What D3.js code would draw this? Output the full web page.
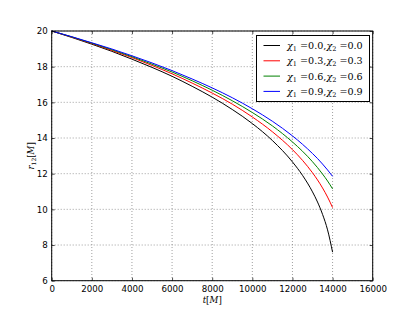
<!DOCTYPE html>
<html><head><meta charset="utf-8">
<script src="https://cdn.jsdelivr.net/npm/d3@7"></script>
<style>
html,body{margin:0;padding:0;background:#fff;}
svg{display:block;}
.tick text{font-family:"DejaVu Sans",sans-serif;font-size:8.67px;fill:#000;}
.math{font-family:"DejaVu Serif",serif;}
</style></head>
<body>
<svg id="c" width="415" height="312"></svg>
<script>
const tValues = [0,1000,2000,3000,4000,5000,6000,7000,8000,9000,10000,11000,12000,12500,13000,13250,13500,13750,14000];
const r00 = [20,19.64,19.26,18.86,18.42,17.96,17.46,16.90,16.29,15.60,14.81,13.86,12.66,11.91,10.98,10.41,9.72,8.85,7.6];
const r03 = [20,19.66,19.30,18.91,18.51,18.07,17.60,17.08,16.52,15.90,15.18,14.35,13.35,12.75,12.05,11.65,11.20,10.69,10.1];
const r06 = [20,19.67,19.32,18.95,18.56,18.14,17.70,17.21,16.68,16.09,15.43,14.68,13.78,13.26,12.67,12.34,11.98,11.59,11.15];
const r09 = [20,19.68,19.34,18.99,18.61,18.21,17.78,17.31,16.81,16.26,15.64,14.94,14.12,13.65,13.13,12.85,12.54,12.21,11.85];
const spinLabels = ["0.0","0.3","0.6","0.9"];
const seriesColors = ["#000000","#ff0000","#008000","#0000ff"];
const xTicks = [0,2000,4000,6000,8000,10000,12000,14000,16000];
const yTicks = [6,8,10,12,14,16,18,20];

const series = [r00,r03,r06,r09];
const svg = d3.select("#c");
const L=51.7, R=372.7, T=31, B=280.7;
const x = d3.scaleLinear().domain([0,16000]).range([L,R]);
const y = d3.scaleLinear().domain([6,20]).range([B,T]);

// grid
const grid = svg.append("g");
xTicks.forEach(v=>{ grid.append("line").attr("x1",x(v)).attr("x2",x(v)).attr("y1",T).attr("y2",B)
  .attr("stroke","#777").attr("stroke-width",0.7).attr("stroke-dasharray","1,2"); });
yTicks.forEach(v=>{ grid.append("line").attr("x1",L).attr("x2",R).attr("y1",y(v)).attr("y2",y(v))
  .attr("stroke","#777").attr("stroke-width",0.7).attr("stroke-dasharray","1,2"); });

// lines
const line = d3.line().x((d,i)=>x(tValues[i])).y(d=>y(d)).curve(d3.curveMonotoneX);
series.forEach((s,k)=>{
  svg.append("path").datum(s).attr("d",line).attr("fill","none")
    .attr("stroke",seriesColors[k]).attr("stroke-width",1);
});

// axes
const xa = svg.append("g").attr("transform",`translate(0,${B})`)
  .call(d3.axisBottom(x).tickValues(xTicks).tickFormat(d3.format("d")).tickSizeInner(-3).tickSizeOuter(0).tickPadding(5));
const xt = svg.append("g").attr("transform",`translate(0,${T})`)
  .call(d3.axisTop(x).tickValues(xTicks).tickFormat("").tickSizeInner(-3).tickSizeOuter(0));
const ya = svg.append("g").attr("transform",`translate(${L},0)`)
  .call(d3.axisLeft(y).tickValues(yTicks).tickFormat(d3.format("d")).tickSizeInner(-3).tickSizeOuter(0).tickPadding(4));
const yr = svg.append("g").attr("transform",`translate(${R},0)`)
  .call(d3.axisRight(y).tickValues(yTicks).tickFormat("").tickSizeInner(-3).tickSizeOuter(0));
[xa,xt,ya,yr].forEach(g=>{ g.select(".domain").remove(); g.selectAll(".tick line").attr("stroke","#000").attr("stroke-width",0.7); });

svg.append("rect").attr("x",L).attr("y",T).attr("width",R-L).attr("height",B-T)
  .attr("fill","none").attr("stroke","#000").attr("stroke-width",1);

// axis labels
const xl = svg.append("text").attr("class","math").attr("x",(L+R)/2).attr("y",303)
  .attr("text-anchor","middle").attr("font-size",8.67);
xl.append("tspan").attr("font-style","italic").text("t");
xl.append("tspan").text("[");
xl.append("tspan").attr("font-style","italic").text("M");
xl.append("tspan").text("]");

const yl = svg.append("text").attr("class","math").attr("transform",`translate(34,${(T+B)/2}) rotate(-90)`)
  .attr("text-anchor","middle").attr("font-size",8.67);
yl.append("tspan").attr("font-style","italic").text("r");
yl.append("tspan").attr("font-size",6).attr("dy",2).text("12");
yl.append("tspan").attr("dy",-2).text("[");
yl.append("tspan").attr("font-style","italic").text("M");
yl.append("tspan").text("]");

// legend
const lg = svg.append("g");
lg.append("rect").attr("x",256.5).attr("y",35.5).attr("width",113).attr("height",66)
  .attr("fill","#fff").attr("stroke","#000").attr("stroke-width",1);
spinLabels.forEach((s,k)=>{
  const yy = 45.5 + k*15.3;
  lg.append("line").attr("x1",263.5).attr("x2",280).attr("y1",yy).attr("y2",yy)
    .attr("stroke",seriesColors[k]).attr("stroke-width",1);
  const t = lg.append("text").attr("class","math").attr("x",287).attr("y",yy+3.5).attr("font-size",9.6);
  t.append("tspan").attr("font-style","italic").text("χ");
  t.append("tspan").attr("font-size",6.5).attr("dy",2).text("1");
  t.append("tspan").attr("dy",-2).text(" =" + s + ",");
  t.append("tspan").attr("font-style","italic").text("χ");
  t.append("tspan").attr("font-size",6.5).attr("dy",2).text("2");
  t.append("tspan").attr("dy",-2).text(" =" + s);
});
</script>
</body></html>
